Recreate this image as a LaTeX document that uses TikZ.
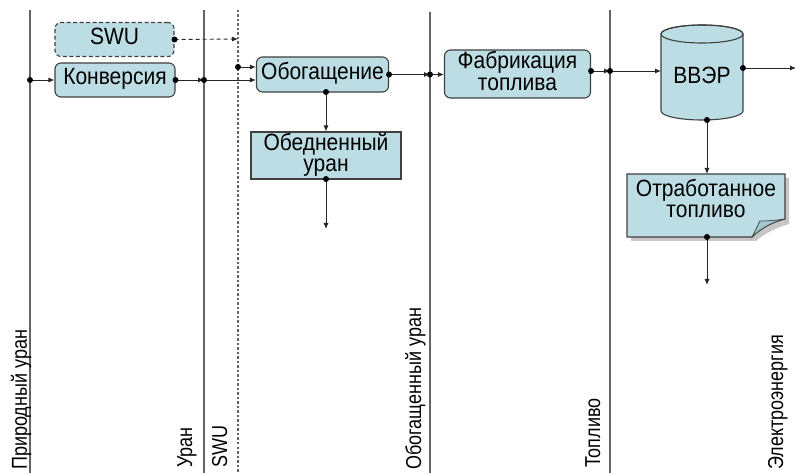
\documentclass[tikz,border=0pt]{standalone}
\usepackage{fontspec}
\usepackage{graphicx}
\setmainfont{Liberation Sans}
\usetikzlibrary{arrows.meta,calc}
\definecolor{boxfill}{RGB}{188,221,227}
\definecolor{flapfill}{RGB}{160,200,208}
\definecolor{edgec}{RGB}{64,64,64}
\definecolor{lanec}{RGB}{100,100,100}
\newcommand{\stxt}[1]{\scalebox{1}[1.12]{\begin{tabular}{@{}c@{}}#1\end{tabular}}}
\renewcommand{\arraystretch}{0.8}
\begin{document}
\begin{tikzpicture}[x=1pt,y=-1pt,
  box/.style={draw=edgec, line width=1.1pt, fill=boxfill, rounded corners=6pt,
    font=\fontsize{21}{24}\selectfont, align=center, inner sep=0pt},
  plain/.style={inner sep=0pt, font=\fontsize{21}{24}\selectfont, align=center},
  lanel/.style={draw=lanec, line width=1.1pt},
  lbl/.style={rotate=90, anchor=base west, font=\fontsize{18}{20}\selectfont, inner sep=0pt},
  flow/.style={draw=black!85, line width=0.9pt, -{Latex[length=6pt,width=5pt]}},
  jdot/.style={fill=black}
]
\useasboundingbox (0,0) rectangle (796,473);
\fill[white] (0,0) rectangle (796,473);

% lanes
\coordinate (t1) at (30,10);  \coordinate (b1) at (30,473);
\coordinate (t2) at (204,10); \coordinate (b2) at (204,473);
\coordinate (t3) at (238,10); \coordinate (b3) at (238,473);
\coordinate (t4) at (430,12); \coordinate (b4) at (430,473);
\coordinate (t5) at (610,10); \coordinate (b5) at (610,473);
\draw[lanel] (t1) -- (b1);
\draw[lanel] (t2) -- (b2);
\draw[lanel, dash pattern=on 2.5pt off 2pt] (t3) -- (b3);
\draw[lanel] (t4) -- (b4);
\draw[lanel] (t5) -- (b5);

% lane labels
\node[lbl] (l1) at (27,470) {\scalebox{1}[1.2]{Природный уран}};
\node[lbl] (l2) at (192,468) {\scalebox{1}[1.2]{Уран}};
\node[lbl] (l3) at (227,468) {\scalebox{1}[1.2]{SWU}};
\node[lbl] (l4) at (421,470) {\scalebox{1}[1.2]{Обогащенный уран}};
\node[lbl] (l5) at (600,468) {\scalebox{1}[1.2]{Топливо}};
\node[lbl] (l6) at (783,470) {\scalebox{1}[1.2]{Электроэнергия}};

% boxes
\node[box, dash pattern=on 4pt off 2.5pt, minimum width=119pt, minimum height=34pt] (swu) at (114.5,39.5) {\stxt{SWU}};
\node[box, minimum width=120pt, minimum height=34pt] (konv) at (115,80) {\stxt{Конверсия}};
\node[box, minimum width=132pt, minimum height=35pt] (obog) at (322.5,74.5) {\stxt{Обогащение}};
\node[box, minimum width=146pt, minimum height=48pt] (fab) at (517.5,74) {\stxt{Фабрикация\\топлива}};
\node[box, rounded corners=0pt, minimum width=150pt, minimum height=47pt] (obed) at (326,155.5) {\stxt{Обедненный\\уран}};

% cylinder
\draw[draw=edgec, line width=1.1pt, fill=boxfill] (661,34) -- (661,111)
  arc[start angle=180, end angle=0, x radius=41, y radius=9] -- (743,34)
  arc[start angle=0, end angle=-180, x radius=41, y radius=9] -- cycle;
\draw[draw=edgec, line width=1.1pt] (702,34) ellipse [x radius=41, y radius=9];
\node[plain, yshift=-6pt] (vvr) at (702,72.5) {\stxt{ВВЭР}};

% document shape
\fill[gray!45] (631,178) -- (789,178) -- (789,224) .. controls (775,228) and (764,234) .. (756,241) -- (631,241) -- cycle;
\draw[draw=edgec, line width=1.1pt, fill=boxfill] (627,174) -- (785,174) -- (785,219)
  .. controls (772,222) and (760,229) .. (752,237) -- (627,237) -- cycle;
\draw[draw=edgec, line width=0.7pt, fill=flapfill] (752,237) .. controls (756,230) and (758,224) .. (760,221)
  .. controls (770,221) and (778,220) .. (785,219) .. controls (772,222) and (760,229) .. (752,237) -- cycle;
\node[plain, yshift=4pt] (otr) at (706,205.5) {\stxt{Отработанное\\топливо}};

% connector points
\coordinate (a1) at (30,80);
\coordinate (a2) at (204,80);
\coordinate (d0) at (238,39);
\coordinate (d1) at (238,67);
\coordinate (a4) at (430,74.5);
\coordinate (a5) at (610,71);
\coordinate (vin) at (661,71);
\coordinate (ve) at (743,68);
\coordinate (vout) at (796,68);
\coordinate (vs) at (707,120);
\coordinate (obs) at (326,92);
\coordinate (obedb) at (326,179);
\coordinate (obedout) at (326,229);
\coordinate (otrt) at (707,174);
\coordinate (otrb) at (707,237);
\coordinate (otrout) at (707,285);

% connectors
\draw[flow] (a1) -- (konv.west);
\draw[flow] (konv.east) -- (a2);
\draw[flow] (a2) -- (obog.west |- a2);
\draw[flow, dash pattern=on 4pt off 3pt] (swu.east) -- (d0);
\draw[flow] (d1) -- (obog.west |- d1);
\draw[flow] (obog.east) -- (a4);
\draw[flow] (a4) -- (fab.west |- a4);
\draw[flow] (fab.east |- a5) -- (a5);
\draw[flow] (a5) -- (vin);
\draw[flow] (ve) -- (vout);
\draw[flow] (obs) -- (obed.north -| obs);
\draw[flow] (obedb) -- (obedout);
\draw[flow] (vs) -- (otrt);
\draw[flow] (otrb) -- (otrout);

% dots
\foreach \p in {a1, konv.east, a2, swu.east, d1, obog.east, a4, a5, obs, obedb, vs, otrb, ve}
  \fill[jdot] (\p) circle (3);
\fill[jdot] (fab.east |- a5) circle (3);
\end{tikzpicture}
\end{document}
